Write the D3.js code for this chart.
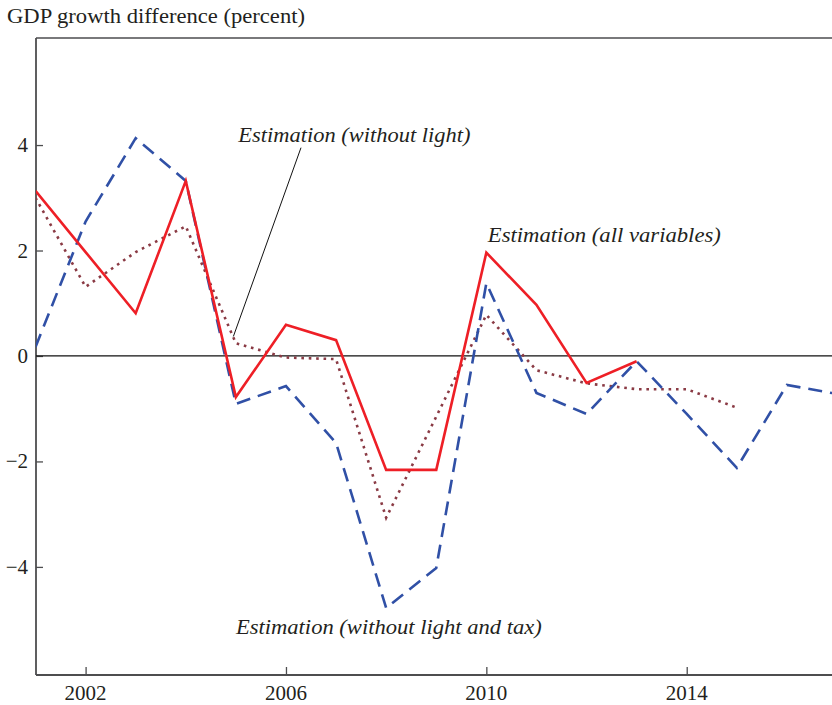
<!DOCTYPE html>
<html>
<head>
<meta charset="utf-8">
<script src="https://cdn.jsdelivr.net/npm/d3@7"></script>
<style>
  html, body { margin: 0; padding: 0; background: #fff; }
  svg { display: block; }
  text { font-family: "Liberation Serif", "Times New Roman", serif; fill: #231f20; }
</style>
</head>
<body>
<svg id="chart" width="832" height="705"></svg>
<script>
// ---- data ----
const yearsAll = [2001, 2002, 2003, 2004, 2005, 2006, 2007, 2008, 2009, 2010, 2011, 2012, 2013];
const allVariables = [3.13, 1.97, 0.81, 3.32, -0.78, 0.59, 0.30, -2.16, -2.16, 1.96, 0.97, -0.51, -0.10];

const yearsNoLight = [2001, 2002, 2003, 2004, 2005, 2006, 2007, 2008, 2009, 2010, 2011, 2012, 2013, 2014, 2015];
const withoutLight = [3.00, 1.31, 1.97, 2.46, 0.24, -0.03, -0.06, -3.07, -1.15, 0.78, -0.27, -0.52, -0.63, -0.63, -0.98];

const yearsNoLightTax = [2001, 2002, 2003, 2004, 2005, 2006, 2007, 2008, 2009, 2010, 2011, 2012, 2013, 2014, 2015, 2016, 2017];
const withoutLightTax = [0.17, 2.55, 4.13, 3.32, -0.91, -0.57, -1.65, -4.78, -4.02, 1.38, -0.70, -1.10, -0.10, -1.10, -2.12, -0.55, -0.72];

const xTicks = [2002, 2006, 2010, 2014];
const yTicks = [-4, -2, 0, 2, 4];
const yTickLabels = ["\u22124", "\u22122", "0", "2", "4"];

const titleText = "GDP growth difference (percent)";
const labelAll = "Estimation (all variables)";
const labelNoLight = "Estimation (without light)";
const labelNoLightTax = "Estimation (without light and tax)";

// ---- layout ----
const svg = d3.select("#chart");
const W = 832, H = 705;
const mLeft = 36, mTop = 38, mBottom = 675;

const x = d3.scaleLinear().domain([2001, 2017]).range([35.5, 837]);
const y = d3.scaleLinear().domain([-6.05, 6.03]).range([mBottom, mTop]);

const axisColor = "#4d4d4f";

// clip
svg.append("defs").append("clipPath").attr("id", "plotclip")
  .append("rect").attr("x", mLeft).attr("y", mTop).attr("width", W - mLeft).attr("height", mBottom - mTop);

// title
svg.append("text").attr("x", 7).attr("y", 23)
  .attr("font-size", 21).attr("textLength", 298).attr("lengthAdjust", "spacingAndGlyphs")
  .text(titleText);

// frame
svg.append("line").attr("x1", mLeft).attr("x2", W + 5).attr("y1", mTop).attr("y2", mTop)
  .attr("stroke", axisColor).attr("stroke-width", 1.6);
svg.append("line").attr("x1", mLeft).attr("x2", mLeft).attr("y1", mTop).attr("y2", mBottom)
  .attr("stroke", axisColor).attr("stroke-width", 1.8);
svg.append("line").attr("x1", mLeft).attr("x2", W + 5).attr("y1", mBottom).attr("y2", mBottom)
  .attr("stroke", axisColor).attr("stroke-width", 1.8);

// y axis ticks (inside)
const yAxis = d3.axisRight(y).tickValues(yTicks).tickSize(7).tickFormat("");
const gy = svg.append("g").attr("transform", `translate(${mLeft},0)`).call(yAxis);
gy.select(".domain").remove();
gy.selectAll(".tick line").attr("stroke", axisColor).attr("stroke-width", 1.3);
svg.append("g").selectAll("text").data(yTicks).join("text")
  .attr("x", 28).attr("y", d => y(d) + 7)
  .attr("text-anchor", "end").attr("font-size", 21)
  .text((d, i) => yTickLabels[i]);

// x axis ticks (inside)
const xAxis = d3.axisTop(x).tickValues(xTicks).tickSize(8).tickFormat("");
const gx = svg.append("g").attr("transform", `translate(0,${mBottom})`).call(xAxis);
gx.select(".domain").remove();
gx.selectAll(".tick line").attr("stroke", axisColor).attr("stroke-width", 1.3);
svg.append("g").selectAll("text").data(xTicks).join("text")
  .attr("x", d => x(d)).attr("y", 700)
  .attr("text-anchor", "middle").attr("font-size", 21)
  .text(d => d);

// zero line
svg.append("line").attr("x1", mLeft).attr("x2", W).attr("y1", y(0)).attr("y2", y(0))
  .attr("stroke", "#111").attr("stroke-width", 1.2);

const plot = svg.append("g").attr("clip-path", "url(#plotclip)");
const line = d3.line().x(d => x(d[0])).y(d => y(d[1]));

// dotted: without light
plot.append("path")
  .attr("d", line(d3.zip(yearsNoLight, withoutLight)))
  .attr("fill", "none").attr("stroke", "#8a3a44").attr("stroke-width", 2.6)
  .attr("stroke-dasharray", "2.6,4.8");

// dashed: without light and tax
plot.append("path")
  .attr("d", line(d3.zip(yearsNoLightTax, withoutLightTax)))
  .attr("fill", "none").attr("stroke", "#3050a6").attr("stroke-width", 2.6)
  .attr("stroke-dasharray", "14,8");

// solid: all variables
plot.append("path")
  .attr("d", line(d3.zip(yearsAll, allVariables)))
  .attr("fill", "none").attr("stroke", "#ee1f26").attr("stroke-width", 2.6)
  .attr("stroke-linejoin", "miter");

// annotations
const annSize = 21.5;
svg.append("text").attr("x", x(2005.05)).attr("y", y(4.06))
  .attr("font-size", annSize).attr("font-style", "italic")
  .attr("textLength", 232).attr("lengthAdjust", "spacingAndGlyphs").text(labelNoLight);
svg.append("line")
  .attr("x1", x(2006.3)).attr("y1", y(3.95))
  .attr("x2", x(2004.95)).attr("y2", y(0.37))
  .attr("stroke", "#111").attr("stroke-width", 1);
svg.append("text").attr("x", x(2010.03)).attr("y", y(2.16))
  .attr("font-size", annSize).attr("font-style", "italic")
  .attr("textLength", 233).attr("lengthAdjust", "spacingAndGlyphs").text(labelAll);
svg.append("text").attr("x", x(2005.0)).attr("y", y(-5.27))
  .attr("font-size", annSize).attr("font-style", "italic")
  .attr("textLength", 306).attr("lengthAdjust", "spacingAndGlyphs").text(labelNoLightTax);
</script>
</body>
</html>
